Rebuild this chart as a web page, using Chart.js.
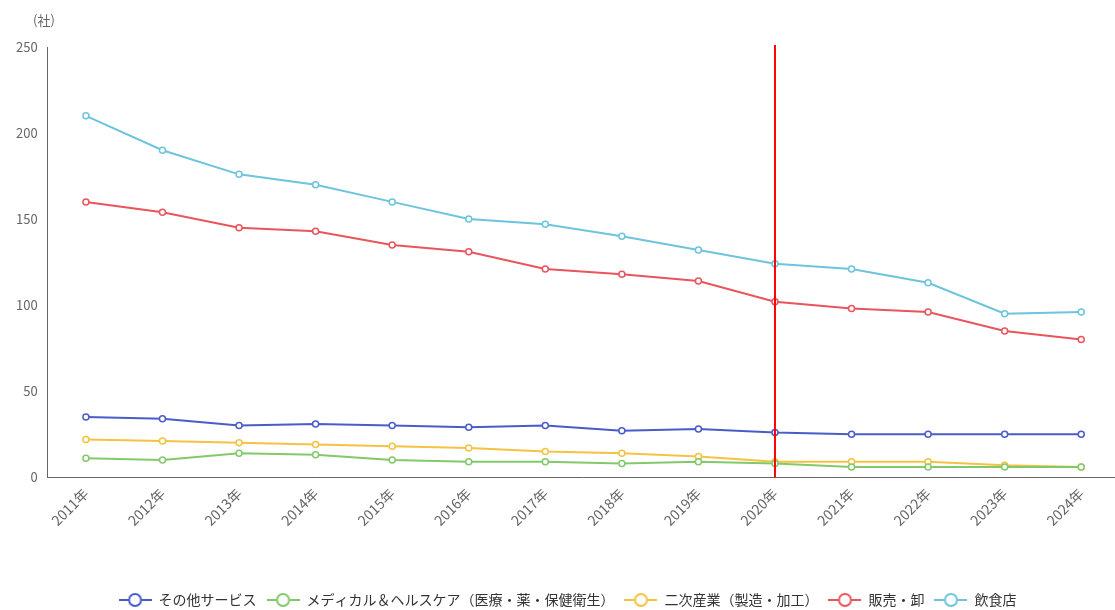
<!DOCTYPE html>
<html>
<head>
<meta charset="utf-8">
<script src="https://cdn.jsdelivr.net/npm/chart.js@4/dist/chart.umd.min.js"></script>
<style>
  html, body { margin: 0; padding: 0; background: #fff; overflow: hidden; }
  #wrap { width: 1125px; height: 610px; }
</style>
</head>
<body>
<div id="wrap"><canvas id="chart"></canvas></div>
<script>
// data
const years = ['2011年', '2012年', '2013年', '2014年', '2015年', '2016年', '2017年',
  '2018年', '2019年', '2020年', '2021年', '2022年', '2023年', '2024年'];
const otherService = [35, 34, 30, 31, 30, 29, 30, 27, 28, 26, 25, 25, 25, 25];
const medical = [11, 10, 14, 13, 10, 9, 9, 8, 9, 8, 6, 6, 6, 6];
const secondary = [22, 21, 20, 19, 18, 17, 15, 14, 12, 9, 9, 9, 7, 6];
const retail = [160, 154, 145, 143, 135, 131, 121, 118, 114, 102, 98, 96, 85, 80];
const restaurant = [210, 190, 176, 170, 160, 150, 147, 140, 132, 124, 121, 113, 95, 96];
const yTicks = [0, 50, 100, 150, 200, 250];
const markerYear = '2020年';

const FONT = '"Noto Sans CJK JP", "Noto Sans", sans-serif';

// legend icon: short line with a hollow circle
function legendIcon(color) {
  const c = document.createElement('canvas');
  c.width = 33; c.height = 16;
  const g = c.getContext('2d');
  g.strokeStyle = color;
  g.lineWidth = 2;
  g.beginPath(); g.moveTo(0, 8); g.lineTo(33, 8); g.stroke();
  g.fillStyle = '#fff';
  g.beginPath(); g.arc(16.5, 8, 6, 0, Math.PI * 2); g.fill(); g.stroke();
  return c;
}

function series(label, data, color) {
  return {
    label: label,
    data: data,
    borderColor: color,
    backgroundColor: color,
    pointBackgroundColor: '#fff',
    pointBorderColor: color,
    pointBorderWidth: 1.5,
    pointRadius: 3,
    borderWidth: 2,
    tension: 0
  };
}

// red vertical line at 2020 + unit label
const extras = {
  id: 'extras',
  afterDatasetsDraw(chart) {
    const ctx = chart.ctx;
    const x = chart.scales.x.getPixelForValue(years.indexOf(markerYear));
    const area = chart.chartArea;
    ctx.save();
    ctx.strokeStyle = '#ff0000';
    ctx.lineWidth = 2;
    ctx.beginPath();
    ctx.moveTo(x, area.top - 2);
    ctx.lineTo(x, area.bottom);
    ctx.stroke();
    ctx.fillStyle = '#666';
    ctx.font = '13px ' + FONT;
    ctx.textAlign = 'left';
    ctx.textBaseline = 'middle';
    ctx.fillText('(社)', 33, 20);
    ctx.restore();
  }
};

const datasets = [
  series('その他サービス', otherService, '#4a5cc8'),
  series('メディカル＆ヘルスケア（医療・薬・保健衛生）', medical, '#82c96a'),
  series('二次産業（製造・加工）', secondary, '#f5c242'),
  series('販売・卸', retail, '#e8555d'),
  series('飲食店', restaurant, '#6cc4dd')
];

new Chart(document.getElementById('chart'), {
  type: 'line',
  data: { labels: years, datasets: datasets },
  options: {
    responsive: true,
    maintainAspectRatio: false,
    animation: false,
    layout: { padding: { top: 47, left: 12, right: 2, bottom: -7 } },
    plugins: {
      tooltip: { enabled: false },
      legend: {
        position: 'bottom',
        labels: {
          usePointStyle: true,
          pointStyleWidth: 33,
          boxHeight: 16,
          padding: 10,
          color: '#333',
          font: { family: FONT, size: 14 },
          generateLabels(chart) {
            const items = Chart.defaults.plugins.legend.labels.generateLabels(chart);
            items.forEach(it => {
              it.pointStyle = legendIcon(chart.data.datasets[it.datasetIndex].borderColor);
            });
            return items;
          }
        }
      }
    },
    scales: {
      x: {
        offset: true,
        grid: { display: false, drawTicks: true, tickLength: 6, tickColor: '#666' },
        border: { color: '#666', width: 1 },
        ticks: {
          color: '#666',
          minRotation: 45,
          maxRotation: 45,
          padding: 2,
          font: { family: FONT, size: 14 }
        },
        afterFit(scale) { scale.height += 52; }
      },
      y: {
        min: 0,
        max: 250,
        afterBuildTicks(axis) { axis.ticks = yTicks.map(v => ({ value: v })); },
        grid: { display: false, drawTicks: true, tickLength: 6, tickColor: '#666' },
        border: { color: '#666', width: 1 },
        ticks: {
          color: '#666',
          padding: 4,
          font: { family: FONT, size: 13 }
        }
      }
    }
  },
  plugins: [extras]
});
</script>
</body>
</html>
